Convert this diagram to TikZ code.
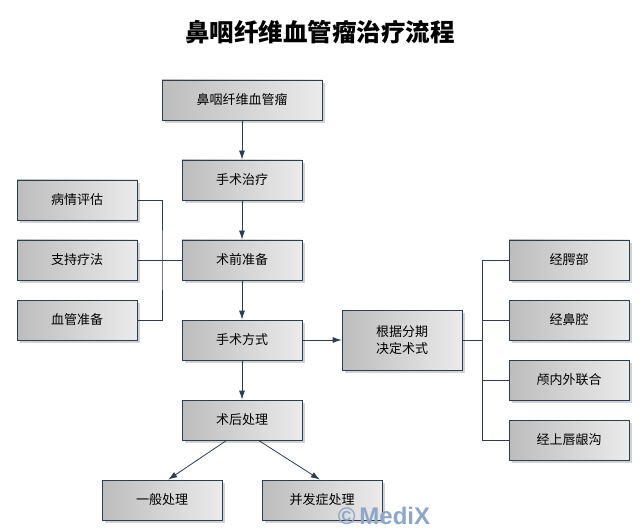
\documentclass[tikz,border=0pt]{standalone}
\usepackage{fontspec}
\newfontfamily\cjk{Noto Sans CJK SC}
\newfontfamily\wmfont{Liberation Sans}
\usetikzlibrary{arrows.meta,shadows}
\definecolor{edge}{HTML}{2C3E50}
\definecolor{wmblue}{HTML}{8EA6C8}
\tikzset{
	box/.style={draw=edge, line width=0.8pt, minimum width=120pt, minimum height=40pt,
		left color=black!26, right color=black!8, inner sep=2pt,
		drop shadow={shadow xshift=3pt, shadow yshift=-3pt, opacity=0.35},
		font=\cjk\fontsize{13}{17}\selectfont, align=center},
	line/.style={draw=edge, line width=0.8pt},
	arr/.style={line, -{Latex[length=9pt,width=6pt]}}
}
\begin{document}
\begin{tikzpicture}[x=1pt,y=-1pt]
	\useasboundingbox[fill=white] (0,0) rectangle (642,529);
	\node[font=\cjk\bfseries\fontsize{24.5}{28}\selectfont] (title) at (320,32) {鼻咽纤维血管瘤治疗流程};
	% main column
	\node[box, minimum width=160pt] (tumor) at (242,100) {鼻咽纤维血管瘤};
	\node[box] (surg) at (242,180) {手术治疗};
	\node[box] (prep) at (242,260) {术前准备};
	\node[box] (mode) at (242,340) {手术方式};
	\node[box] (post) at (242,420) {术后处理};
	\node[box] (gen) at (162,500) {一般处理};
	\node[box] (comp) at (322,500) {并发症处理};
	% left side
	\node[box] (eval) at (77,200) {病情评估};
	\node[box] (supp) at (77,260) {支持疗法};
	\node[box] (vasc) at (77,320) {血管准备};
	% right side
	\node[box, minimum height=60pt] (stage) at (402,340) {根据分期\\决定术式};
	\node[box] (r1) at (569,260) {经腭部};
	\node[box] (r2) at (569,320) {经鼻腔};
	\node[box] (r3) at (569,380) {颅内外联合};
	\node[box] (r4) at (569,440) {经上唇龈沟};
	\coordinate (lj) at (162,260);
	\coordinate (rj) at (482,340);
	\draw[arr] (tumor) -- (surg);
	\draw[arr] (surg) -- (prep);
	\draw[arr] (prep) -- (mode);
	\draw[arr] (mode) -- (post);
	\draw[arr] (mode) -- (stage);
	\draw[arr] (post.-127) -- (gen.73);
	\draw[arr] (post.-51) -- (comp.96);
	\draw[line] (eval.east) -| (lj) |- (vasc.east);
	\draw[line] (supp.east) -- (prep.west);
	\draw[line] (stage.east) -- (rj);
	\foreach \r in {r1,r2,r3,r4}
		\draw[line] (rj) |- (\r.west);
	\node[text=wmblue, font=\wmfont\bfseries\fontsize{24}{24}\selectfont] (mark) at (384,516) {\textcopyright\,MediX};
\end{tikzpicture}
\end{document}
